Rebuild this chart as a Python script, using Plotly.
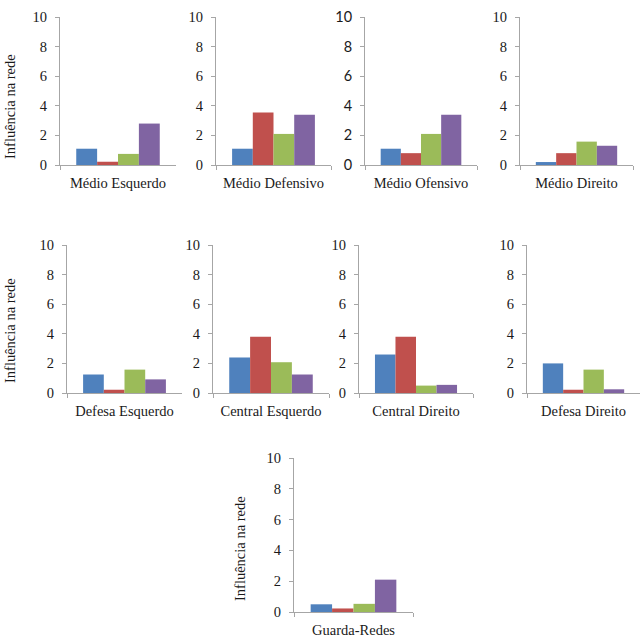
import plotly.graph_objects as go

W = H = 642

positions = ["Médio Esquerdo", "Médio Defensivo", "Médio Ofensivo", "Médio Direito",
             "Defesa Esquerdo", "Central Esquerdo", "Central Direito", "Defesa Direito",
             "Guarda-Redes"]

serie1 = [1.1, 1.1, 1.1, 0.2, 1.25, 2.4, 2.6, 2.0, 0.5]
serie2 = [0.22, 3.55, 0.8, 0.8, 0.22, 3.8, 3.8, 0.22, 0.23]
serie3 = [0.75, 2.1, 2.1, 1.58, 1.58, 2.08, 0.5, 1.58, 0.53]
serie4 = [2.8, 3.4, 3.4, 1.3, 0.92, 1.25, 0.55, 0.25, 2.1]

series_names = ["Série 1", "Série 2", "Série 3", "Série 4"]
series_values = [serie1, serie2, serie3, serie4]
colors = ["#4F81BD", "#C0504D", "#9BBB59", "#8064A2"]

y_ticks = [0, 2, 4, 6, 8, 10]
y_title = "Influência na rede"

# panel plot areas in window pixels: (x0, x1, ytop, ybottom)
boxes = [
    (60, 176, 17, 165), (216, 331, 17, 165), (365, 477, 17, 165), (520, 633, 17, 165),
    (67, 182, 245, 393), (213, 329, 245, 393), (359, 473, 245, 393), (527, 640, 245, 393),
    (294, 413, 458, 612),
]

def px_x(v):
    return v / W

def px_y(v):
    return 1 - v / H

fig = go.Figure()
axis_color = "#A6A6A6"
serif = "Liberation Serif, Times New Roman, DejaVu Serif, serif"
sans = "Lato, Open Sans, sans-serif"
FS = 14.5

for i, (pos, (x0, x1, yt, yb)) in enumerate(zip(positions, boxes)):
    n = i + 1
    xa = "x" if n == 1 else f"x{n}"
    ya = "y" if n == 1 else f"y{n}"
    for name, vals, c in zip(series_names, series_values, colors):
        fig.add_trace(go.Bar(x=[pos], y=[vals[i]], name=name, marker_color=c,
                             marker_line_width=0, showlegend=False,
                             xaxis=xa, yaxis=ya))
    tickfont_family = sans if i == 2 else serif
    fig.update_layout(**{
        ("xaxis" if n == 1 else f"xaxis{n}"): dict(
            domain=[px_x(x0), px_x(x1)], anchor=ya, type="category",
            showline=True, linecolor=axis_color, linewidth=1,
            ticks="outside", tickson="boundaries", ticklen=4, tickcolor=axis_color,
            showgrid=False, zeroline=False, fixedrange=True, automargin=False,
            tickfont=dict(family=serif, size=FS, color="#1a1a1a"),
            ticklabelstandoff=5,
        ),
        ("yaxis" if n == 1 else f"yaxis{n}"): dict(
            domain=[px_y(yb), px_y(yt)], anchor=xa, range=[0, 10],
            tickvals=y_ticks, showline=True, linecolor=axis_color, linewidth=1,
            ticks="outside", ticklen=4, tickcolor=axis_color,
            showgrid=False, zeroline=False, fixedrange=True, automargin=False,
            tickfont=dict(family=tickfont_family, size=FS, color="#1a1a1a"),
            ticklabelstandoff=5,
        ),
    })

# y-axis titles
for (xc, yc) in [(10, 107), (10, 331), (240, 549)]:
    fig.add_annotation(text=y_title, x=px_x(xc), y=px_y(yc), xref="paper", yref="paper",
                       xanchor="center", yanchor="middle",
                       textangle=-90, showarrow=False,
                       font=dict(family=serif, size=FS, color="#1a1a1a"))

fig.update_layout(
    width=W, height=H, margin=dict(l=0, r=0, t=0, b=0, pad=0, autoexpand=False),
    paper_bgcolor="white", plot_bgcolor="white",
    barmode="group", bargap=0.28, bargroupgap=0,
)

fig.write_html(
    "out.html",
    config={"displayModeBar": False, "staticPlot": True},
    post_script="document.body.style.margin='0';document.body.style.overflow='hidden';",
)
